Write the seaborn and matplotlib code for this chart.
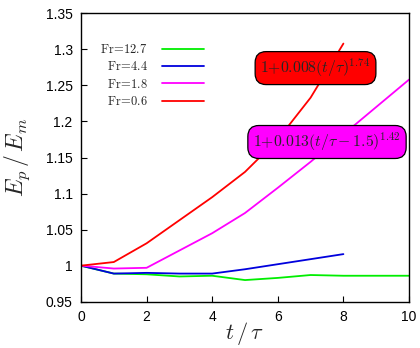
import numpy as np
import pandas as pd
import seaborn as sns
import matplotlib
matplotlib.use("Agg")
import matplotlib.pyplot as plt

sns.set_style("white")
plt.rcParams['font.family'] = ['Liberation Sans', 'DejaVu Sans']
plt.rcParams['mathtext.fontset'] = 'cm'

labels = ["Fr=12.7", "Fr=4.4", "Fr=1.8", "Fr=0.6"]
colors = ["#00ee00", "#0000dd", "#ff00ff", "#ff0000"]

t_green = [0, 1, 2, 3, 4, 5, 6, 7, 8, 9, 10]
ep_green = [1.000, 0.989, 0.988, 0.985, 0.986, 0.980, 0.983, 0.987, 0.986, 0.986, 0.986]
t_blue = [0, 1, 2, 3, 4, 5, 6, 7, 8]
ep_blue = [1.000, 0.989, 0.990, 0.989, 0.989, 0.995, 1.002, 1.009, 1.016]
t_mag = [0, 1, 2, 3, 4, 5, 6, 7, 8, 9, 10]
ep_mag = [1.000, 0.996, 0.997, 1.021, 1.045, 1.073, 1.108, 1.144, 1.182, 1.220, 1.258]
t_red = [0, 1, 2, 3, 4, 5, 6, 7, 8]
ep_red = [1.000, 1.005, 1.031, 1.063, 1.095, 1.130, 1.175, 1.233, 1.308]

frames = []
for lab, t, e in zip(labels, [t_green, t_blue, t_mag, t_red], [ep_green, ep_blue, ep_mag, ep_red]):
    frames.append(pd.DataFrame({"t": t, "Ep": e, "Fr": lab}))
df = pd.concat(frames, ignore_index=True)

fig = plt.figure(figsize=(4.2, 3.48), dpi=100)
ax = fig.add_axes([81/420, 1-301.7/348, (409-81)/420, (301.7-13.3)/348])

sns.lineplot(data=df, x="t", y="Ep", hue="Fr", hue_order=labels,
             palette=dict(zip(labels, colors)), linewidth=1.3, ax=ax, legend=False)

ax.set_xlim(0, 10)
ax.set_ylim(0.95, 1.35)
ax.set_xticks([0, 2, 4, 6, 8, 10])
ax.set_yticks([0.95, 1.0, 1.05, 1.1, 1.15, 1.2, 1.25, 1.3, 1.35])
ax.set_yticklabels(["0.95", "1", "1.05", "1.1", "1.15", "1.2", "1.25", "1.3", "1.35"])
ax.tick_params(direction='in', length=4, width=0.8, labelsize=10, colors='black',
               left=True, bottom=True, pad=6)
for s in ax.spines.values():
    s.set_color('black')
    s.set_linewidth(1.0)

ax.set_xlabel(r'$t\,/\,\tau$', fontsize=16, labelpad=-3)
ax.set_ylabel(r'$E_p\,/\,E_m$', fontsize=17, labelpad=10)

handles = [plt.Line2D([], [], color=c, linewidth=1.3) for c in colors]
leg_labels = [r'$\mathrm{Fr\!=\!12.7}$', r'$\mathrm{Fr\!=\!4.4}$', r'$\mathrm{Fr\!=\!1.8}$', r'$\mathrm{Fr\!=\!0.6}$']
leg = ax.legend(handles, leg_labels, loc='upper right', frameon=False, markerfirst=False,
                bbox_to_anchor=(204/420, 1-43/348), bbox_transform=fig.transFigure,
                fontsize=9, handlelength=3.4, handletextpad=1.1, labelspacing=0.35,
                borderpad=0, borderaxespad=0)

ax.text(7.15, 1.274, r'$1{+}0.008(t/\tau)^{1.74}$', fontsize=11.3, ha='center', va='center',
        bbox=dict(boxstyle='round,pad=0.34,rounding_size=0.7', fc='#ff0000', ec='black', lw=0.9))
ax.text(7.5, 1.1715, r'$1{+}0.013(t/\tau-1.5)^{1.42}$', fontsize=11.3, ha='center', va='center',
        bbox=dict(boxstyle='round,pad=0.34,rounding_size=0.7', fc='#ff00ff', ec='black', lw=0.9))

fig.savefig("out.png", dpi=100)
